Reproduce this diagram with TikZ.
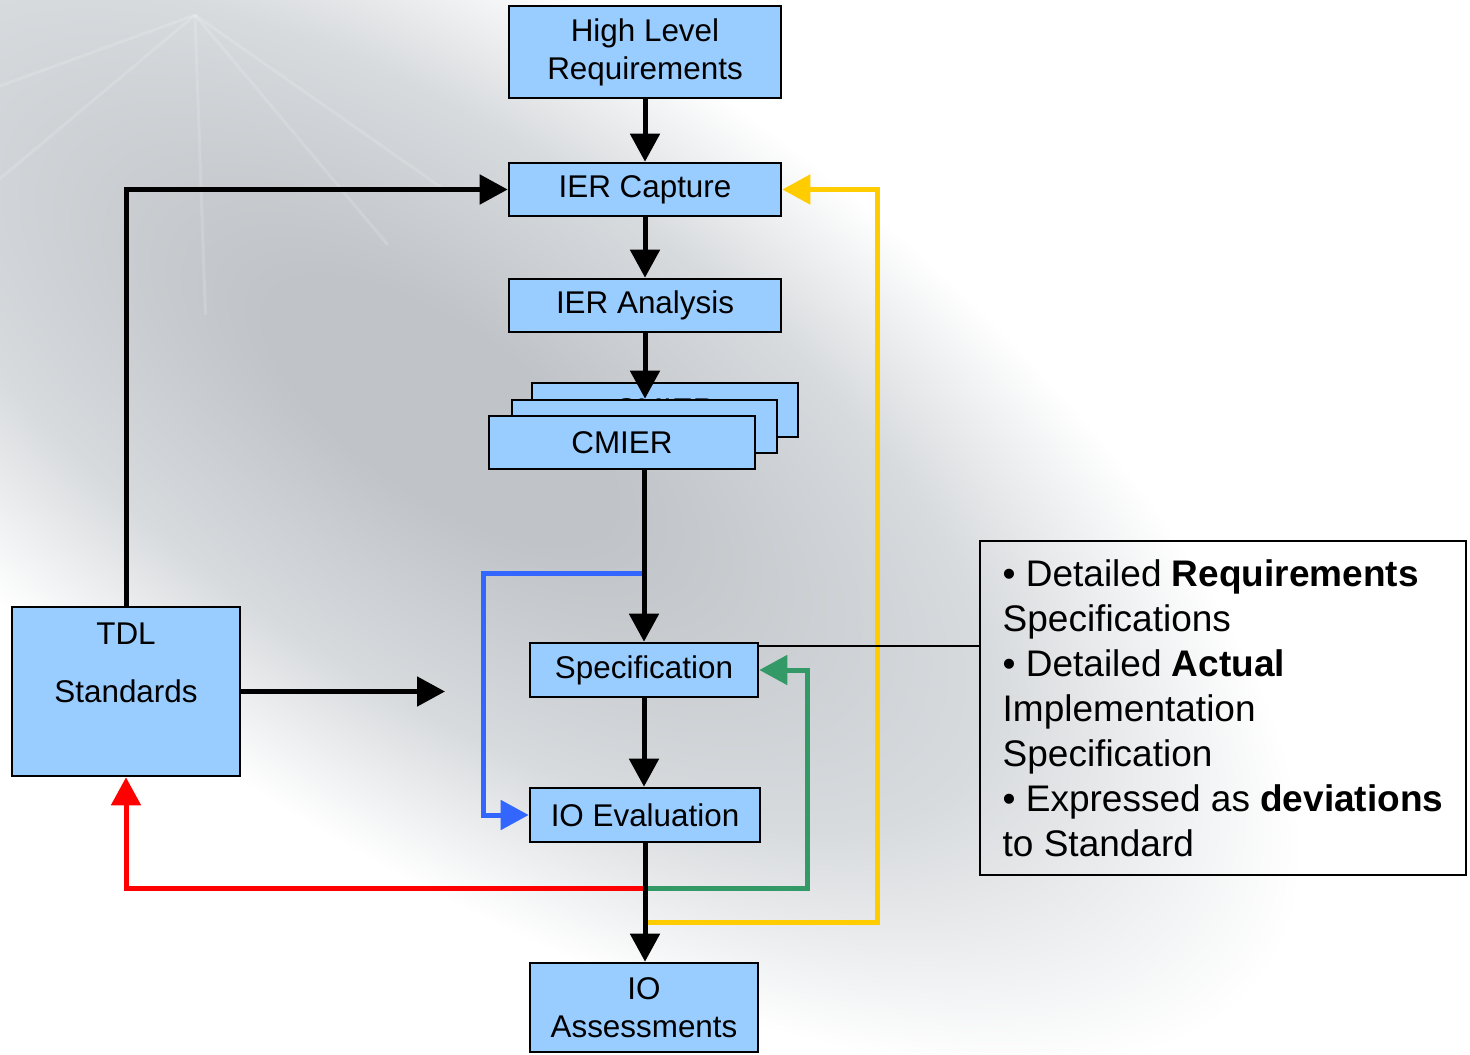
\documentclass[tikz,border=0pt]{standalone}
\usepackage{fontspec}
\setmainfont{Liberation Sans}
\usetikzlibrary{arrows.meta}
\definecolor{boxfill}{HTML}{99CCFF}
\definecolor{bgdark}{HTML}{C0C4C8}
\definecolor{bgmid}{HTML}{D8DBDE}
\definecolor{cred}{HTML}{FF0000}
\definecolor{cgreen}{HTML}{339966}
\definecolor{cblue}{HTML}{3366FF}
\definecolor{cyellow}{HTML}{FFCC00}
\pgfdeclareradialshading{bgshade}{\pgfpoint{0bp}{0bp}}{color(0bp)=(bgdark); color(5bp)=(bgdark); color(16bp)=(bgmid); color(25bp)=(white); color(50bp)=(white)}
\begin{document}
\begin{tikzpicture}[x=0.5pt,y=-0.5pt,
  box/.style={draw=black, line width=1.3pt, fill=boxfill, inner sep=0pt,
    font=\fontsize{15.7}{19}\selectfont, align=center},
  flow/.style={line width=2.5pt, -{Triangle[length=14pt,width=14.5pt]}},
  loopline/.style={line width=2.5pt, -{Triangle[length=14pt,width=14.5pt]}},
  ray/.style={white, line width=1.5pt, opacity=0.15}
]
\useasboundingbox (0,0) rectangle (1470,1054);
\clip (0,0) rectangle (1470,1054);
\fill[white] (0,0) rectangle (1470,1054);
\begin{scope}[transform canvas={shift={(440,410)}, rotate=-34}]
  \shade[shading=bgshade] (0,0) ellipse [x radius=1000, y radius=420];
\end{scope}
% faint light rays
\foreach \a in {35,50,88,140,160}
  \draw[ray] (195,15) -- ++(\a:300);

% boxes
\node[box, minimum width=136pt, minimum height=46pt] (hlr) at (645,52) {High Level\\Requirements};
\node[box, minimum width=136pt, minimum height=26.5pt] (cap) at (645,189.5) {IER Capture};
\node[box, minimum width=136pt, minimum height=26.5pt] (ana) at (645,305.5) {IER Analysis};
\node[box, minimum width=133pt, minimum height=27pt] (cm3) at (665,410) {CMIER};
\node[box, minimum width=132.5pt, minimum height=26.5pt] (cm2) at (644.5,426.5) {CMIER};
\node[box, minimum width=133pt, minimum height=26.5pt] (cm1) at (622,442.5) {CMIER};
\node[box, minimum width=114pt, minimum height=27pt] (spec) at (644,670) {Specification};
\node[box, minimum width=115pt, minimum height=27pt] (ioe) at (645,815) {IO Evaluation};
\node[box, minimum width=114pt, minimum height=44.5pt] (ioa) at (644,1007.5) {IO\\Assessments};
\node[box, minimum width=114pt, minimum height=84.5pt] (tdl) at (126,691.5) {};
\node[font=\fontsize{15.7}{19}\selectfont, align=center, inner sep=0pt] (tdltxt) at (126,663) {TDL\\[10pt]Standards};

\node[draw=black, line width=1pt, minimum width=243pt, minimum height=167pt,
  align=left, inner xsep=10pt,
  font=\fontsize{18.5}{22.5}\selectfont] (note) at (1223,708)
  {• Detailed \textbf{Requirements}\\Specifications\\• Detailed \textbf{Actual}\\Implementation\\Specification\\• Expressed as \textbf{deviations}\\to Standard};

% coloured feedback loops
\coordinate (bj) at (645,573);
\coordinate (bl) at (483,573);
\draw[loopline, cblue] (bj) -- (bl) |- (ioe.west);
\coordinate (rj) at (645,888);
\draw[loopline, cred] (rj) -| (tdl.south);
\coordinate (gc) at (807,888);
\draw[loopline, cgreen] (rj) -- (gc) |- (spec.east);
\coordinate (yj) at (647,922);
\coordinate (yc) at (877,922);
\draw[loopline, cyellow] (yj) -- (yc) |- (cap.east);

% main flow
\draw[flow] (hlr.south) -- (cap.north);
\draw[flow] (cap.south) -- (ana.north);
\draw[flow] (ana.south) -- (ana.south |- cm2.north);
\draw[flow] (cm1.south -| spec.north) -- (spec.north);
\draw[flow] (spec.south) -- (spec.south |- ioe.north);
\draw[flow] (ioe.south) -- (ioe.south |- ioa.north);
\draw[flow] (tdl.north) |- (cap.west);
\coordinate (tdlend) at (445,691.5);
\draw[flow] (tdl.east) -- (tdlend);

% link to note
\draw[line width=1pt] ([yshift=-2pt]spec.north east) -- ([yshift=-2pt]spec.north east -| note.west);
\end{tikzpicture}
\end{document}
